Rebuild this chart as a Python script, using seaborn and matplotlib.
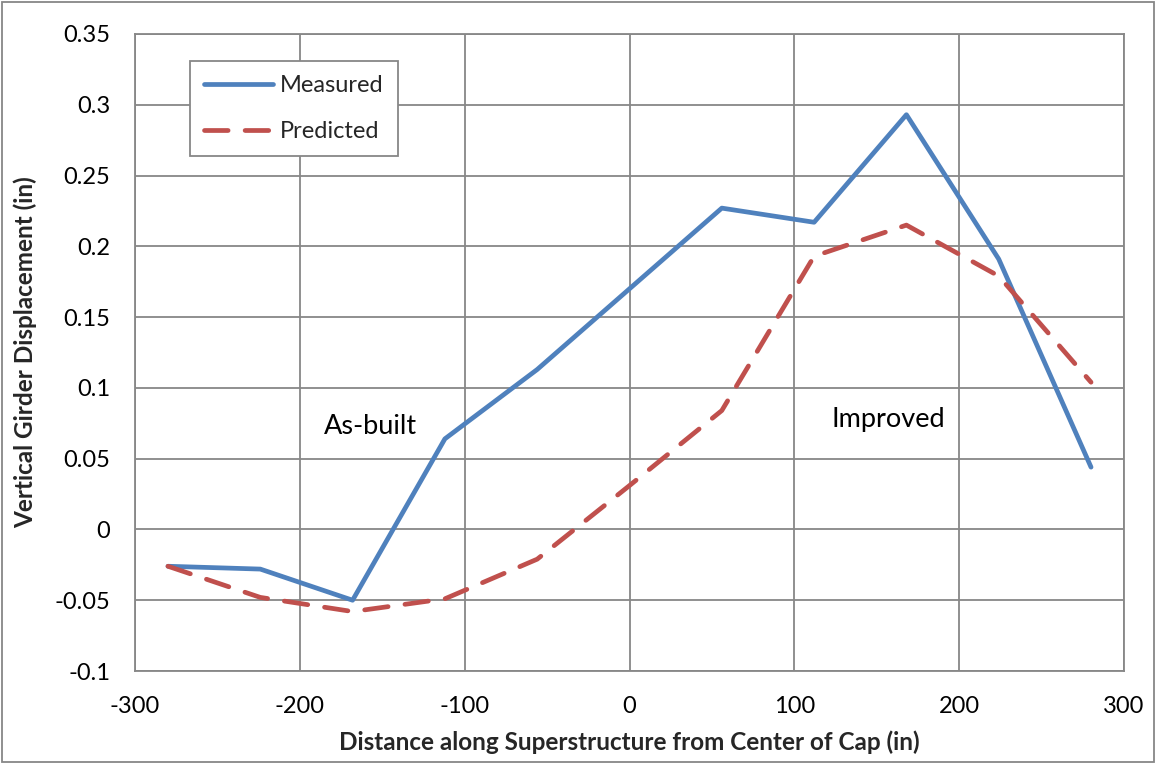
import matplotlib
matplotlib.use("Agg")
import matplotlib.pyplot as plt
import seaborn as sns
import pandas as pd
from matplotlib.patches import Rectangle

x_pos = [-280, -224, -168, -112, -56, 56, 112, 168, 224, 280]
measured = [-0.026, -0.028, -0.050, 0.064, 0.113, 0.227, 0.217, 0.293, 0.191, 0.044]
x_pred = [-280, -224, -168, -112, -56, 0, 56, 112, 168, 224, 280]
predicted = [-0.026, -0.048, -0.058, -0.049, -0.021, 0.031, 0.084, 0.193, 0.215, 0.179, 0.104]
x_ticks = [-300, -200, -100, 0, 100, 200, 300]
y_ticks = [-0.1, -0.05, 0, 0.05, 0.1, 0.15, 0.2, 0.25, 0.3, 0.35]
y_tick_labels = ["-0.1", "-0.05", "0", "0.05", "0.1", "0.15", "0.2", "0.25", "0.3", "0.35"]
x_tick_labels = ["-300", "-200", "-100", "0", "100", "200", "300"]
annotations = [("As-built", -157, 0.073), ("Improved", 157, 0.078)]

sns.set_theme(style="white")
plt.rcParams['font.family'] = ['Lato', 'DejaVu Sans']
plt.rcParams['axes.unicode_minus'] = False

df_m = pd.DataFrame({"x": x_pos, "y": measured})
df_p = pd.DataFrame({"x": x_pred, "y": predicted})

fig = plt.figure(figsize=(11.56, 7.64), dpi=100)
ax = fig.add_axes([135/1156, 1-671/764, (1124-135)/1156, (671-34)/764])

grid_c = "#878787"
sns.lineplot(data=df_m, x="x", y="y", ax=ax, color="#4F81BD", linewidth=3.4,
             label="Measured", sort=False)
sns.lineplot(data=df_p, x="x", y="y", ax=ax, color="#C0504D", linewidth=3.4,
             label="Predicted", sort=False, dashes=False)
ax.lines[1].set_dashes([5.0, 3.6])
ax.lines[1].set_dash_capstyle("round")
ax.lines[0].set_solid_capstyle("round")

ax.set_xlim(-300, 300)
ax.set_ylim(-0.1, 0.35)
ax.set_xticks(x_ticks)
ax.set_xticklabels(x_tick_labels)
ax.set_yticks(y_ticks)
ax.set_yticklabels(y_tick_labels)
ax.grid(True, color=grid_c, linewidth=1.3)
ax.set_axisbelow(True)
for s in ax.spines.values():
    s.set_color(grid_c)
    s.set_linewidth(1.3)
ax.tick_params(axis="both", labelsize=17, colors="black", length=0)
ax.tick_params(axis="y", pad=18)
ax.tick_params(axis="x", pad=18)

ax.set_xlabel("Distance along Superstructure from Center of Cap (in)", fontsize=17.5,
              fontweight="bold", labelpad=10)
ax.set_ylabel("Vertical Girder Displacement (in)", fontsize=17.5, fontweight="bold",
              labelpad=12)

for txt, xv, yv in annotations:
    ax.text(xv, yv, txt, fontsize=19.5, ha="center", va="center", color="black")

leg = ax.legend(loc="upper left", bbox_to_anchor=(0.0556, 0.9576), fontsize=17,
                frameon=True, fancybox=False, handlelength=2.9, borderpad=0.6,
                labelspacing=1.05, handletextpad=0.3, borderaxespad=0)
leg.get_frame().set_edgecolor(grid_c)
leg.get_frame().set_linewidth(1.3)
leg.get_frame().set_alpha(1)

fig.patches.append(Rectangle((2/1156, 2/764), 1 - 4/1156, 1 - 4/764, transform=fig.transFigure,
                             fill=False, edgecolor=grid_c, linewidth=1.3))

fig.savefig("out.png", dpi=100, facecolor="white")
